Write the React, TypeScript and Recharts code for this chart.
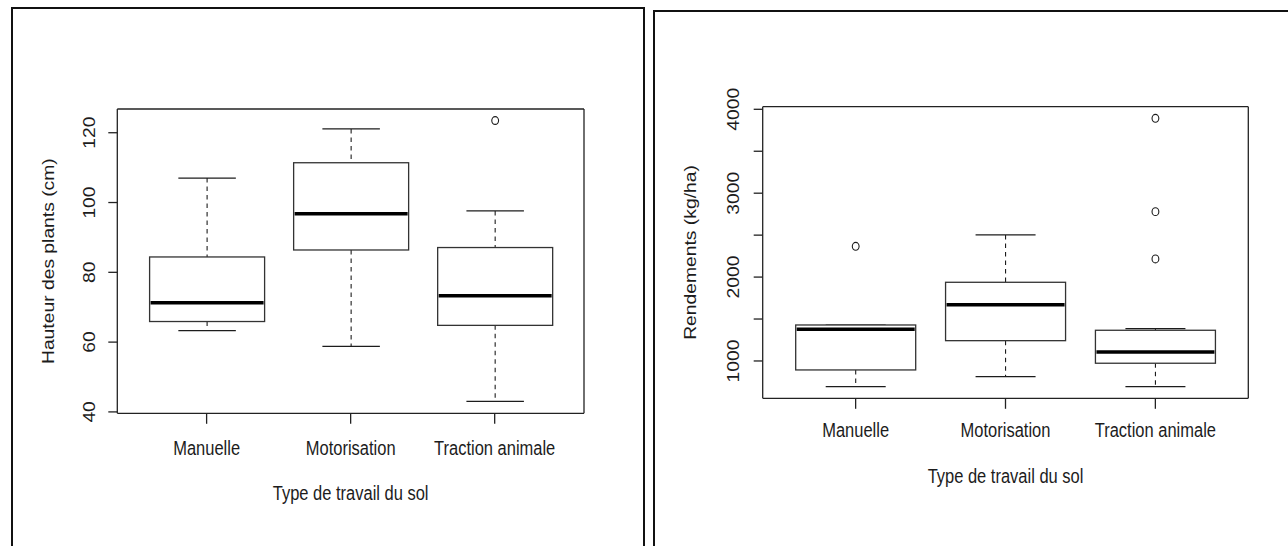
import React from 'react';
import { ComposedChart, Bar, XAxis, YAxis, Label } from 'recharts';

// categories shared by both panels
const categories = ['Manuelle', 'Motorisation', 'Traction animale'];

// left panel: plant height (cm)
const hauteurMin = [63.3, 58.8, 43.0];
const hauteurQ1 = [65.9, 86.4, 64.8];
const hauteurMed = [71.3, 96.8, 73.3];
const hauteurQ3 = [84.4, 111.4, 87.1];
const hauteurMax = [107.0, 121.1, 97.6];
const hauteurOutliers = [[], [], [123.5]];
const hauteurTicks = [40, 60, 80, 100, 120];

// right panel: yields (kg/ha)
const rendMin = [694, 813, 694];
const rendQ1 = [893, 1242, 973];
const rendMed = [1378, 1671, 1107];
const rendQ3 = [1429, 1938, 1366];
const rendMax = [1429, 2502, 1385];
const rendOutliers = [[2367], [], [3893, 2780, 2216]];
const rendTicks = [1000, 1500, 2000, 2500, 3000, 3500, 4000];
const rendLabelTicks = [1000, 2000, 3000, 4000];

const INK = '#1c1c1c';
const FONT = '"Liberation Sans", Arial, Helvetica, sans-serif';
const FS = 16.5;
const STRETCH = 1.17;

const buildRows = (mins: number[], q1: number[], med: number[], q3: number[], maxs: number[], outs: number[][]) =>
  categories.map((name, i) => ({
    name,
    box: [q1[i], q3[i]],
    min: mins[i],
    q1: q1[i],
    med: med[i],
    q3: q3[i],
    max: maxs[i],
    outliers: outs[i],
  }));

const hauteurRows = buildRows(hauteurMin, hauteurQ1, hauteurMed, hauteurQ3, hauteurMax, hauteurOutliers);
const rendRows = buildRows(rendMin, rendQ1, rendMed, rendQ3, rendMax, rendOutliers);

// box + whiskers + outliers, positioned from the bar rect the library computes
const BoxShape = (props: any) => {
  const { x, y, width, height, payload } = props;
  if (!payload || height <= 0) return null;
  const k = height / (payload.q3 - payload.q1);
  const yOf = (v: number) => y + (payload.q3 - v) * k;
  const cx = x + width / 2;
  const cap = width / 4;
  return (
    <g>
      <line x1={cx} x2={cx} y1={yOf(payload.max)} y2={y} stroke={INK} strokeWidth={1.1} strokeDasharray="4.5 4" />
      <line x1={cx} x2={cx} y1={y + height} y2={yOf(payload.min)} stroke={INK} strokeWidth={1.1} strokeDasharray="4.5 4" />
      <line x1={cx - cap} x2={cx + cap} y1={yOf(payload.max)} y2={yOf(payload.max)} stroke={INK} strokeWidth={1.2} />
      <line x1={cx - cap} x2={cx + cap} y1={yOf(payload.min)} y2={yOf(payload.min)} stroke={INK} strokeWidth={1.2} />
      <rect x={x} y={y} width={width} height={height} fill="#fff" stroke="#333" strokeWidth={1.3} />
      <line x1={x + 1} x2={x + width - 1} y1={yOf(payload.med)} y2={yOf(payload.med)} stroke="#000" strokeWidth={3.6} />
      {payload.outliers.map((v: number, i: number) => (
        <ellipse key={i} cx={cx} cy={yOf(v)} rx={3.4} ry={3.9} fill="none" stroke={INK} strokeWidth={1.1} />
      ))}
    </g>
  );
};

const XTick = ({ x, y, payload, dy }: any) => (
  <g transform={`translate(${x},${y + dy}) scale(1,${STRETCH})`}>
    <text x={0} y={0} textAnchor="middle" fontFamily={FONT} fontSize={FS} fill={INK}>
      {payload.value}
    </text>
  </g>
);

const YTick = ({ x, y, payload, shown }: any) => {
  if (shown && !shown.includes(payload.value)) return null;
  return (
    <g transform={`translate(${x},${y}) scale(1,${STRETCH}) rotate(-90)`}>
      <text x={0} y={0} textAnchor="middle" fontFamily={FONT} fontSize={FS} fill={INK}>
        {payload.value}
      </text>
    </g>
  );
};

const xTitle = (dy: number) => (props: any) => {
  const vb = props.viewBox;
  return (
    <g transform={`translate(${vb.x + vb.width / 2},${vb.y + dy}) scale(1,${STRETCH})`}>
      <text x={0} y={0} textAnchor="middle" fontFamily={FONT} fontSize={FS} fill={INK}>
        Type de travail du sol
      </text>
    </g>
  );
};

const yTitle = (text: string, dx: number) => (props: any) => {
  const vb = props.viewBox;
  return (
    <g transform={`translate(${vb.x + vb.width - dx},${vb.y + vb.height / 2}) scale(1,${STRETCH}) rotate(-90)`}>
      <text x={0} y={0} textAnchor="middle" fontFamily={FONT} fontSize={FS} fill={INK}>
        {text}
      </text>
    </g>
  );
};

const axisStroke = { stroke: '#222', strokeWidth: 1.3 };

type PanelProps = {
  rows: any[];
  width: number;
  margin: { top: number; right: number; bottom: number; left: number };
  domain: [number, number];
  ticks: number[];
  labelTicks?: number[];
  padding: number;
  barSize: number;
  yLabel: string;
  yLabelDx: number;
  tickDx: number;
  xTickDy: number;
  xTitleDy: number;
};

// top and right axes are 1px thick so they still draw their line (the plot frame)
const Panel = (p: PanelProps) => (
  <ComposedChart
    width={p.width}
    height={546}
    data={p.rows}
    margin={{ ...p.margin, top: p.margin.top - 1, right: p.margin.right - 1 }}
  >
    <XAxis
      dataKey="name"
      padding={{ left: p.padding, right: p.padding }}
      axisLine={axisStroke}
      tickLine={axisStroke}
      tickSize={10.5}
      height={60}
      interval={0}
      tick={<XTick dy={p.xTickDy - 10.5} />}
      tickMargin={0}
    >
      <Label content={xTitle(p.xTitleDy)} />
    </XAxis>
    <XAxis xAxisId="top" dataKey="name" orientation="top" height={1} tick={false} tickLine={false} axisLine={axisStroke} />
    <YAxis
      type="number"
      domain={p.domain}
      ticks={p.ticks}
      allowDataOverflow
      width={80}
      axisLine={axisStroke}
      tickLine={axisStroke}
      tickSize={9}
      tickMargin={p.tickDx - 9}
      interval={0}
      tick={<YTick shown={p.labelTicks} />}
    >
      <Label content={yTitle(p.yLabel, p.yLabelDx)} />
    </YAxis>
    <YAxis
      yAxisId="right"
      orientation="right"
      type="number"
      domain={p.domain}
      allowDataOverflow
      width={1}
      tick={false}
      tickLine={false}
      axisLine={axisStroke}
    />
    <Bar dataKey="box" barSize={p.barSize} shape={<BoxShape />} isAnimationActive={false} />
  </ComposedChart>
);

export default function App() {
  return (
    <div style={{ position: 'absolute', left: 0, top: 0, width: 1288, height: 546, background: '#fff', overflow: 'hidden' }}>
      <div style={{ position: 'absolute', left: 11, top: 7, width: 634, height: 600, border: '2px solid #111', boxSizing: 'border-box' }} />
      <div style={{ position: 'absolute', left: 653, top: 10, width: 700, height: 600, border: '2px solid #111', boxSizing: 'border-box' }} />
      <div style={{ position: 'absolute', left: 0, top: 0 }}>
        <Panel
          rows={hauteurRows}
          width={640}
          margin={{ top: 109, right: 56, bottom: 72.7, left: 37.3 }}
          domain={[39.6, 126.8]}
          ticks={hauteurTicks}
          padding={17.3}
          barSize={115}
          yLabel="Hauteur des plants (cm)"
          yLabelDx={63.5}
          tickDx={22.6}
          xTickDy={41.5}
          xTitleDy={87}
        />
      </div>
      <div style={{ position: 'absolute', left: 650, top: 0 }}>
        <Panel
          rows={rendRows}
          width={638}
          margin={{ top: 106.7, right: 39.7, bottom: 87.7, left: 32.7 }}
          domain={[555, 4031]}
          ticks={rendTicks}
          labelTicks={rendLabelTicks}
          padding={18}
          barSize={120}
          yLabel="Rendements (kg/ha)"
          yLabelDx={67}
          tickDx={23.7}
          xTickDy={39}
          xTitleDy={84.5}
        />
      </div>
    </div>
  );
}
